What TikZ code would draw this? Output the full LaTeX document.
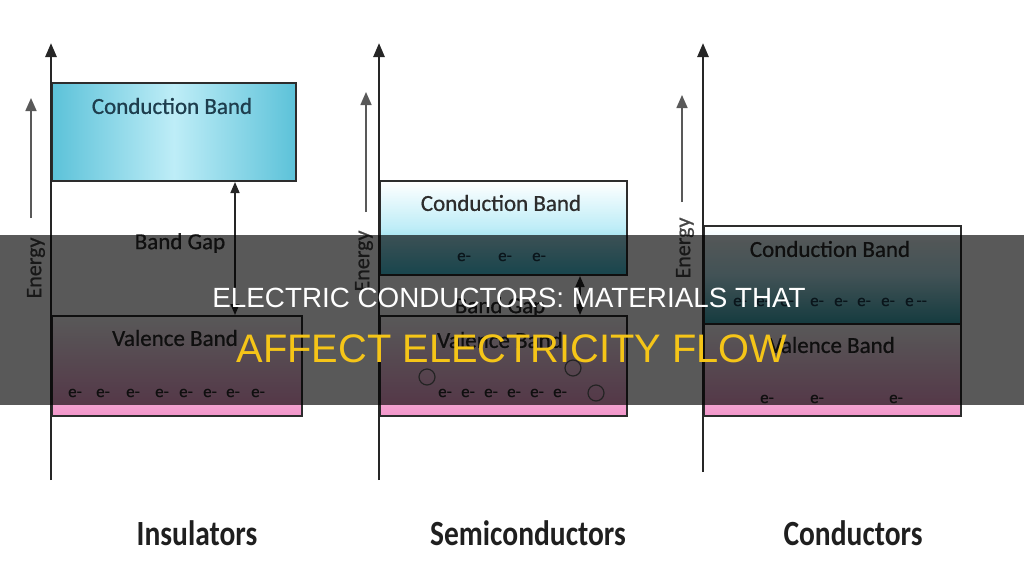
\documentclass[tikz,border=0pt]{standalone}
\usepackage{fontspec}
\setmainfont{Carlito}
\newfontfamily\labelfont{Carlito}[FakeBold=0.8]
\newfontfamily\bannerfont{Liberation Sans}
\usetikzlibrary{arrows.meta}

\definecolor{boxline}{RGB}{45,45,45}
\definecolor{txtdark}{RGB}{45,45,45}
\definecolor{tealtxt}{RGB}{30,62,78}
\definecolor{cyanedge}{RGB}{92,194,217}
\definecolor{cyanmid}{RGB}{190,237,247}
\definecolor{cyanlow}{RGB}{70,200,222}
\definecolor{teallow}{RGB}{60,170,182}
\definecolor{pinklow}{RGB}{242,150,202}
\definecolor{bannery}{RGB}{245,197,24}

\begin{document}
\begin{tikzpicture}[x=1pt,y=-1pt,
  band/.style={draw=boxline,line width=2pt,inner sep=0pt,anchor=north west},
  axis/.style={line width=2.6pt,black!85,-{Triangle[length=14pt,width=11pt]}},
  enarrow/.style={line width=1.6pt,black!65,-{Triangle[length=13pt,width=11pt]}},
  gap/.style={line width=1.6pt,black!85,{Triangle[length=11pt,width=9pt]}-{Triangle[length=11pt,width=9pt]}},
  lbl/.style={font=\labelfont\fontsize{23}{25}\selectfont,text=txtdark},
  enlbl/.style={font=\labelfont\fontsize{22}{24}\selectfont,text=black!72,rotate=90},
  elec/.style={font=\labelfont\fontsize{17}{19}\selectfont,text=txtdark,inner sep=0pt},
  hole/.style={draw=black!60,line width=1.2pt,circle,minimum size=16pt,inner sep=0pt},
  title/.style={font=\fontsize{29.5}{32}\selectfont\bfseries,text=black!88,yscale=1.2}]
\useasboundingbox (0,0) rectangle (1024,570);

% insulators
\node[band,minimum width=244pt,minimum height=98pt,left color=cyanedge,right color=cyanedge,middle color=cyanmid] (icb) at (51,82) {};
\node[band,minimum width=250pt,minimum height=100pt,top color=white,bottom color=pinklow] (ivb) at (51,315) {};
\coordinate (ibase) at (51,480);
\coordinate (itop) at (51,43);
\draw[axis] (ibase) -- (itop);
\coordinate (ie0) at (31,218);
\coordinate (ie1) at (31,98);
\draw[enarrow] (ie0) -- (ie1);
\node[enlbl] (ien) at (36,268) {Energy};
\coordinate (igx) at (235,0);
\draw[gap] (icb.south -| igx) -- (ivb.north -| igx);
\node[lbl,text=tealtxt] (icbl) at (172,106) {Conduction Band};
\node[lbl] (igl) at (180,243) {Band Gap};
\node[lbl] (ivbl) at (175,338) {Valence Band};
\foreach \x [count=\i] in {75,103,133,162,186,210,233,258}
  \node[elec] (ie\i) at (\x,393) {e-};
\node[title] (ititle) at (197,533) {Insulators};

% semiconductors
\node[band,minimum width=247pt,minimum height=94pt,top color=white,bottom color=cyanlow,middle color=cyanmid] (scb) at (379,180) {};
\node[band,minimum width=247pt,minimum height=100pt,top color=white,bottom color=pinklow] (svb) at (379,315) {};
\coordinate (sbase) at (379,480);
\coordinate (stop) at (379,43);
\draw[axis] (sbase) -- (stop);
\coordinate (se0) at (366,212);
\coordinate (se1) at (366,92);
\draw[enarrow] (se0) -- (se1);
\node[enlbl] (sen) at (364,261) {Energy};
\coordinate (sgx) at (580,0);
\draw[gap] (scb.south -| sgx) -- (svb.north -| sgx);
\node[lbl] (scbl) at (501,203) {Conduction Band};
\node[lbl] (sgl) at (500,307) {Band Gap};
\node[lbl] (svbl) at (500,340) {Valence Band};
\foreach \x [count=\i] in {464,505,539}
  \node[elec,text=tealtxt] (sc\i) at (\x,257) {e-};
\foreach \x [count=\i] in {445,468,491,514,537,560}
  \node[elec] (sv\i) at (\x,393) {e-};
\foreach \x/\y [count=\i] in {427/377, 573/368, 596/393}
  \node[hole] (sh\i) at (\x,\y) {};
\node[title] (stitle) at (528,533) {Semiconductors};

% conductors
\node[band,minimum width=257pt,minimum height=98pt,top color=white,bottom color=teallow,middle color=cyanmid] (ccb) at (703,225) {};
\node[band,minimum width=257pt,minimum height=92pt,top color=white,bottom color=pinklow] (cvb) at (703,323) {};
\coordinate (cbase) at (703,472);
\coordinate (ctop) at (703,43);
\draw[axis] (cbase) -- (ctop);
\coordinate (ce0) at (682,202);
\coordinate (ce1) at (682,95);
\draw[enarrow] (ce0) -- (ce1);
\node[enlbl] (cen) at (685,248) {Energy};
\node[lbl] (ccbl) at (830,249) {Conduction Band};
\node[lbl] (cvbl) at (832,345) {Valence Band};
\foreach \x [count=\i] in {740,763,787,817,841,864,888}
  \node[elec,text=tealtxt] (cc\i) at (\x,302) {e-};
\node[elec,text=tealtxt] (cc8) at (916,302) {e\,--};
\foreach \x [count=\i] in {767,817,896}
  \node[elec] (cv\i) at (\x,399) {e-};
\node[title] (ctitle) at (853,533) {Conductors};

% banner
\fill[black,opacity=0.65] (0,235) rectangle (1024,405);
\node[font=\bannerfont\fontsize{27.8}{30}\selectfont,text=white,anchor=base] (hd1) at (509,307) {ELECTRIC CONDUCTORS: MATERIALS THAT};
\node[font=\bannerfont\fontsize{39.8}{42}\selectfont,text=bannery,anchor=base] (hd2) at (512,362) {AFFECT ELECTRICITY FLOW};
\end{tikzpicture}
\end{document}
